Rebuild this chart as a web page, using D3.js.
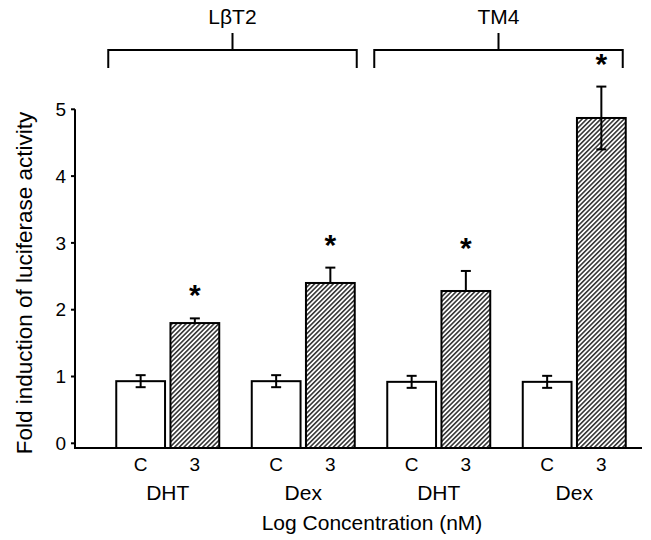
<!DOCTYPE html>
<html>
<head>
<meta charset="utf-8">
<script src="https://cdn.jsdelivr.net/npm/d3@7"></script>
<style>
  body { margin: 0; background: #fff; }
  text { font-family: "Liberation Sans", Arial, sans-serif; fill: #000; }
</style>
</head>
<body>
<div id="chart"></div>
<script>
// data
const groups = ["LβT2 DHT", "LβT2 Dex", "TM4 DHT", "TM4 Dex"];
const groupLabels = ["DHT", "Dex", "DHT", "Dex"];
const doses = ["C", "3"];
const means = [[0.93, 1.80], [0.93, 2.40], [0.92, 2.28], [0.92, 4.87]];
const errors = [[0.09, 0.07], [0.09, 0.23], [0.09, 0.30], [0.09, 0.47]];
const significant = [[false, true], [false, true], [false, true], [false, true]];
const cellLines = ["LβT2", "TM4"];
const yTicks = [0, 1, 2, 3, 4, 5];

const W = 651, H = 540;
const svg = d3.select("#chart").append("svg")
  .attr("width", W).attr("height", H);

const axisX = 75, baseY = 448;

const y = d3.scaleLinear().domain([0, 5]).range([443.3, 109.3]);

const x0 = d3.scaleBand().domain(groups).range([100, 642])
  .paddingInner(0.24).paddingOuter(0.12);
const x1 = d3.scaleBand().domain(doses).range([0, x0.bandwidth()])
  .paddingInner(0.1);

// hatch pattern
const defs = svg.append("defs");
const pat = defs.append("pattern")
  .attr("id", "hatch")
  .attr("patternUnits", "userSpaceOnUse")
  .attr("width", 3.3).attr("height", 10)
  .attr("patternTransform", "rotate(45)");
pat.append("rect").attr("width", 3.3).attr("height", 10).attr("fill", "#fff");
pat.append("line")
  .attr("x1", 0.8).attr("y1", 0).attr("x2", 0.8).attr("y2", 10)
  .attr("stroke", "#000").attr("stroke-width", 1.25);

// flatten bars
const bars = [];
groups.forEach((g, i) => {
  doses.forEach((d, j) => {
    bars.push({ g, d, gi: i, v: means[i][j], e: errors[i][j], sig: significant[i][j],
      last: i === groups.length - 1 && j === 1 });
  });
});
const bx = b => x0(b.g) + x1(b.d);
const bc = b => bx(b) + x1.bandwidth() / 2;

// error bars under hatched bars (lower whisker hidden by the bar)
const errG = svg.append("g").attr("stroke", "#000").attr("stroke-width", 2);
function drawErr(sel) {
  sel.append("line")
    .attr("x1", bc).attr("x2", bc)
    .attr("y1", b => y(b.v - b.e)).attr("y2", b => y(b.v + b.e));
  sel.append("line")
    .attr("x1", b => bc(b) - 5).attr("x2", b => bc(b) + 5)
    .attr("y1", b => y(b.v + b.e)).attr("y2", b => y(b.v + b.e));
  sel.append("line")
    .attr("x1", b => bc(b) - 5).attr("x2", b => bc(b) + 5)
    .attr("y1", b => y(b.v - b.e)).attr("y2", b => y(b.v - b.e));
}
errG.selectAll("g.under").data(bars.filter(b => b.d === "3" && !b.last))
  .enter().append("g").attr("class", "under").call(drawErr);

svg.append("g").selectAll("rect").data(bars).enter().append("rect")
  .attr("x", bx)
  .attr("y", b => y(b.v))
  .attr("width", x1.bandwidth())
  .attr("height", b => baseY - y(b.v))
  .attr("fill", b => b.d === "3" ? "url(#hatch)" : "#fff")
  .attr("stroke", "#000").attr("stroke-width", 2);

// error bars over the bars
const errTop = svg.append("g").attr("stroke", "#000").attr("stroke-width", 2);
errTop.selectAll("g.over").data(bars.filter(b => b.d === "C" || b.last))
  .enter().append("g").attr("class", "over").call(drawErr);

// significance stars
svg.append("g").selectAll("text").data(bars.filter(b => b.sig)).enter().append("text")
  .attr("x", bc)
  .attr("y", b => y(b.v + b.e) - 13)
  .attr("text-anchor", "middle")
  .attr("font-size", 30).attr("font-weight", "bold")
  .text("*");

// axes
svg.append("line")
  .attr("x1", axisX).attr("x2", axisX).attr("y1", y(5)).attr("y2", baseY)
  .attr("stroke", "#000").attr("stroke-width", 2);
svg.append("line")
  .attr("x1", axisX - 1).attr("x2", 642).attr("y1", baseY).attr("y2", baseY)
  .attr("stroke", "#000").attr("stroke-width", 2);

const yAxis = svg.append("g");
yAxis.selectAll("line").data(yTicks).enter().append("line")
  .attr("x1", axisX - 4).attr("x2", axisX)
  .attr("y1", d => y(d)).attr("y2", d => y(d))
  .attr("stroke", "#000").attr("stroke-width", 2);
yAxis.selectAll("text").data(yTicks).enter().append("text")
  .attr("x", axisX - 9).attr("y", d => y(d)).attr("dy", "0.35em")
  .attr("text-anchor", "end").attr("font-size", 19)
  .text(d => d);

svg.append("text")
  .attr("transform", "translate(24,283) rotate(-90)")
  .attr("text-anchor", "middle").attr("dy", "0.35em")
  .attr("font-size", 22.5)
  .text("Fold induction of luciferase activity");

// x labels
svg.append("g").selectAll("text").data(bars).enter().append("text")
  .attr("x", bc).attr("y", 464).attr("dy", "0.35em")
  .attr("text-anchor", "middle").attr("font-size", 19)
  .text(b => b.d);
svg.append("g").selectAll("text").data(groups).enter().append("text")
  .attr("x", g => x0(g) + x0.bandwidth() / 2).attr("y", 493).attr("dy", "0.35em")
  .attr("text-anchor", "middle").attr("font-size", 21)
  .text((g, i) => groupLabels[i]);
svg.append("text")
  .attr("x", 372).attr("y", 523).attr("dy", "0.35em")
  .attr("text-anchor", "middle").attr("font-size", 21)
  .text("Log Concentration (nM)");

// brackets for the cell lines
const spans = [
  [x0(groups[0]) - 8, x0(groups[1]) + x0.bandwidth() + 2],
  [x0(groups[2]) - 13, x0(groups[3]) + x0.bandwidth() - 3]
];
const br = svg.append("g").attr("fill", "none").attr("stroke", "#000").attr("stroke-width", 2);
spans.forEach(([a, b], i) => {
  const m = (a + b) / 2;
  br.append("path").attr("d", `M${a},68 V50 H${b} V68 M${m},50 V33`);
  svg.append("text")
    .attr("x", m).attr("y", 17).attr("dy", "0.35em")
    .attr("text-anchor", "middle").attr("font-size", 21)
    .text(cellLines[i]);
});
</script>
</body>
</html>
